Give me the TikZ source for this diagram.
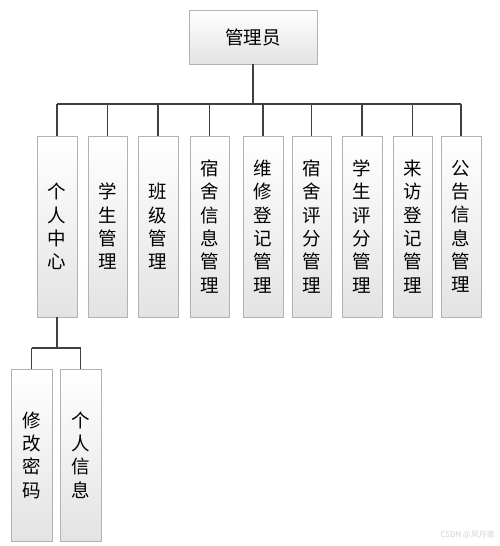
\documentclass[tikz,border=0pt]{standalone}
\usepackage{fontspec}
\setmainfont{Noto Sans CJK SC}
\usetikzlibrary{positioning}
\usetikzlibrary{shadows}
\tikzset{
    box/.style = {draw = gray!60, top color = white, bottom color = gray!22,
        drop shadow = {shadow xshift = 1.2pt, shadow yshift = -1.2pt, fill = gray!45, opacity = .6},
        inner sep = 0pt, outer sep = 0pt},
    module/.style = {box, minimum width = 39.5pt, minimum height = 181pt, text width = 39.5pt,
        align = center, font = {\fontsize{18.5pt}{23.3pt}\selectfont}},
    sub/.style = {box, minimum width = 41pt, minimum height = 172pt, text width = 41pt,
        align = center, font = {\fontsize{18.5pt}{23.3pt}\selectfont}},
    link/.style = {draw = black!75, line width = 1.5pt},
}

\begin{document}
\begin{tikzpicture}[x = 1pt, y = 1pt]
        \useasboundingbox (0, 0) rectangle (500, -546);
        \node (admin) [box, minimum width = 128pt, minimum height = 54pt,
            font = {\fontsize{18.5pt}{22pt}\selectfont}] at (253, -37) {管理员};
        \node (personal) [module, anchor = north] at (57, -136) {个\\人\\中\\心};
        \node (student) [module, right = 11pt of personal] {学\\生\\管\\理};
        \node (class) [module, right = 11pt of student] {班\\级\\管\\理};
        \node (dorm) [module, right = 12pt of class] {宿\\舍\\信\\息\\管\\理};
        \node (repair) [module, right = 14pt of dorm] {维\\修\\登\\记\\管\\理};
        \node (dormscore) [module, right = 9pt of repair] {宿\\舍\\评\\分\\管\\理};
        \node (stuscore) [module, right = 11pt of dormscore] {学\\生\\评\\分\\管\\理};
        \node (visitor) [module, right = 11pt of stuscore] {来\\访\\登\\记\\管\\理};
        \node (notice) [module, right = 9pt of visitor] {公\\告\\信\\息\\管\\理};
        \node (password) [sub, anchor = north] at (31.5, -369) {修\\改\\密\\码};
        \node (info) [sub, right = 8pt of password] {个\\人\\信\\息};
        \node (mark) [anchor = east, text = gray!35, inner sep = 0pt,
            font = {\fontsize{8pt}{9pt}\selectfont}] at (495, -535) {CSDN @风月歌};
        \coordinate (bus) at (253, -104);
        \coordinate (subbus) at (57, -348);
        % admin to modules
        \draw[link] (admin.south) -- (bus);
        \draw[link] (personal.north |- bus) -- (notice.north |- bus);
        \draw[link] (personal.north |- bus) -- (personal.north);
        \draw[link] (student.north |- bus) -- (student.north);
        \draw[link] (class.north |- bus) -- (class.north);
        \draw[link] (dorm.north |- bus) -- (dorm.north);
        \draw[link] (repair.north |- bus) -- (repair.north);
        \draw[link] (dormscore.north |- bus) -- (dormscore.north);
        \draw[link] (stuscore.north |- bus) -- (stuscore.north);
        \draw[link] (visitor.north |- bus) -- (visitor.north);
        \draw[link] (notice.north |- bus) -- (notice.north);
        % personal centre
        \draw[link] (personal.south) -- (subbus);
        \draw[link] (password.north |- subbus) -- (info.north |- subbus);
        \draw[link] (password.north |- subbus) -- (password.north);
        \draw[link] (info.north |- subbus) -- (info.north);
    \end{tikzpicture}
\end{document}
